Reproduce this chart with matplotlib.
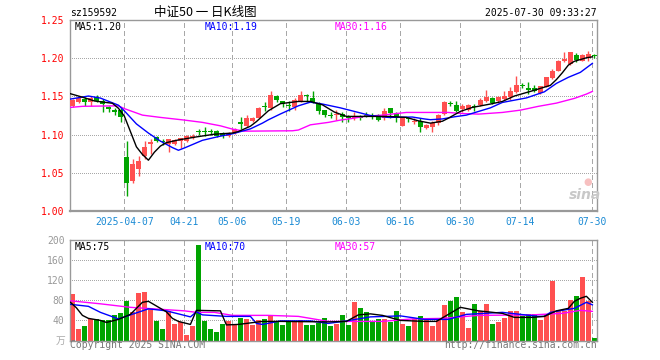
import matplotlib
matplotlib.use("Agg")
import matplotlib.pyplot as plt
import numpy as np

# daily K line of sz159592, 2025-03-24 .. 2025-07-30 (88 trading days)
opens = [1.1377, 1.1429, 1.1465, 1.1429, 1.1487, 1.1443, 1.1356, 1.1321, 1.1325, 1.0709,
         1.0398, 1.0548, 1.0722, 1.0872, 1.0963, 1.0919, 1.0876, 1.0876, 1.0915, 1.0919,
         1.0958, 1.1047, 1.1050, 1.1050, 1.1046, 1.1016, 1.0984, 1.1016, 1.1160, 1.1115,
         1.1181, 1.1216, 1.1377, 1.1343, 1.1508, 1.1438, 1.1386, 1.1364, 1.1435, 1.1517,
         1.1474, 1.1412, 1.1317, 1.1255, 1.1255, 1.1272, 1.1225, 1.1216, 1.1229, 1.1255,
         1.1238, 1.1238, 1.1212, 1.1343, 1.1277, 1.1115, 1.1207, 1.1168, 1.1181, 1.1089,
         1.1094, 1.1147, 1.1268, 1.1412, 1.1386, 1.1334, 1.1325, 1.1377, 1.1386, 1.1443,
         1.1474, 1.1435, 1.1460, 1.1487, 1.1560, 1.1652, 1.1608, 1.1604, 1.1543, 1.1626,
         1.1740, 1.1836, 1.1967, 1.1923, 1.2041, 1.1967, 1.2001, 1.2037]
highs = [1.1470, 1.1500, 1.1487, 1.1500, 1.1517, 1.1465, 1.1377, 1.1343, 1.1343, 1.0919,
         1.0680, 1.0722, 1.0919, 1.0941, 1.0985, 1.0941, 1.0941, 1.0941, 1.0958, 1.0998,
         1.1006, 1.1076, 1.1093, 1.1076, 1.1063, 1.1028, 1.1028, 1.1081, 1.1225, 1.1254,
         1.1233, 1.1360, 1.1429, 1.1574, 1.1517, 1.1438, 1.1438, 1.1473, 1.1574, 1.1530,
         1.1574, 1.1421, 1.1325, 1.1290, 1.1325, 1.1290, 1.1255, 1.1290, 1.1255, 1.1298,
         1.1281, 1.1268, 1.1351, 1.1343, 1.1290, 1.1233, 1.1233, 1.1212, 1.1212, 1.1138,
         1.1181, 1.1268, 1.1438, 1.1443, 1.1443, 1.1399, 1.1395, 1.1395, 1.1474, 1.1580,
         1.1487, 1.1508, 1.1571, 1.1626, 1.1766, 1.1678, 1.1687, 1.1643, 1.1639, 1.1757,
         1.1857, 1.1976, 1.2076, 1.2076, 1.2063, 1.2050, 1.2090, 1.2050]
lows = [1.1360, 1.1408, 1.1377, 1.1377, 1.1421, 1.1300, 1.1300, 1.1255, 1.1168, 1.0199,
        1.0370, 1.0461, 1.0679, 1.0745, 1.0897, 1.0863, 1.0775, 1.0863, 1.0828, 1.0897,
        1.0937, 1.0998, 1.0985, 1.0998, 1.0963, 1.0950, 1.0963, 1.1007, 1.1072, 1.1094,
        1.1168, 1.1211, 1.1311, 1.1325, 1.1421, 1.1360, 1.1304, 1.1325, 1.1421, 1.1421,
        1.1408, 1.1268, 1.1225, 1.1212, 1.1194, 1.1160, 1.1168, 1.1194, 1.1194, 1.1225,
        1.1203, 1.1181, 1.1194, 1.1212, 1.1168, 1.1107, 1.1168, 1.1138, 1.1038, 1.1068,
        1.1038, 1.1125, 1.1255, 1.1369, 1.1290, 1.1290, 1.1308, 1.1311, 1.1377, 1.1421,
        1.1399, 1.1408, 1.1447, 1.1447, 1.1543, 1.1613, 1.1534, 1.1556, 1.1526, 1.1617,
        1.1726, 1.1827, 1.1945, 1.1915, 1.1945, 1.1958, 1.1958, 1.1997]
closes = [1.1456, 1.1474, 1.1421, 1.1474, 1.1443, 1.1399, 1.1334, 1.1291, 1.1225, 1.0361,
          1.0614, 1.0657, 1.0832, 1.0898, 1.0919, 1.0906, 1.0941, 1.0928, 1.0958, 1.0976,
          1.0976, 1.1034, 1.1037, 1.1028, 1.0984, 1.0984, 1.1007, 1.1072, 1.1137, 1.1216,
          1.1216, 1.1351, 1.1360, 1.1517, 1.1452, 1.1395, 1.1377, 1.1452, 1.1521, 1.1500,
          1.1429, 1.1311, 1.1255, 1.1246, 1.1272, 1.1225, 1.1212, 1.1233, 1.1216, 1.1238,
          1.1225, 1.1194, 1.1311, 1.1281, 1.1225, 1.1225, 1.1199, 1.1181, 1.1094, 1.1124,
          1.1150, 1.1259, 1.1429, 1.1395, 1.1311, 1.1377, 1.1386, 1.1364, 1.1448, 1.1498,
          1.1412, 1.1495, 1.1508, 1.1573, 1.1652, 1.1639, 1.1586, 1.1574, 1.1635, 1.1749,
          1.1836, 1.1967, 1.1988, 1.2076, 1.1975, 1.2041, 1.2054, 1.2028]
volumes = [93, 23, 29, 43, 43, 40, 40, 51, 55, 79, 56, 95, 97, 64, 38, 23, 59, 33, 36, 11,
           28, 191, 39, 23, 16, 33, 38, 30, 44, 43, 30, 41, 43, 51, 38, 31, 38, 38, 40, 31,
           31, 34, 44, 29, 33, 50, 30, 77, 65, 57, 37, 43, 43, 37, 59, 33, 29, 43, 49, 41,
           29, 41, 71, 79, 87, 57, 25, 73, 59, 73, 33, 37, 45, 59, 59, 49, 53, 53, 41, 53,
           119, 61, 59, 81, 89, 127, 79, 5]

tick_idx = [9, 19, 27, 36, 46, 55, 65, 75, 87]
tick_labels = ['2025-04-07', '04-21', '05-06', '05-19', '06-03', '06-16', '06-30', '07-14', '07-30']

# moving averages as shown on the chart (read at these candle indices)
ma5_idx = [0, 2, 4, 7, 8, 9, 10, 11, 12, 13, 14, 15, 16, 18, 21, 24, 27, 28, 30, 31, 33, 35, 38, 40,
           42, 44, 46, 49, 53, 56, 58, 60, 62, 63, 65, 67, 70, 72, 74, 77, 80, 81, 82, 83, 84, 86, 87]
ma5 = [1.1535, 1.1490, 1.1440, 1.1410, 1.1345, 1.1240, 1.1040, 1.0840, 1.0740, 1.0665, 1.0770,
       1.0850, 1.0895, 1.0930, 1.0970, 1.1005, 1.1020, 1.1040, 1.1110, 1.1170, 1.1312, 1.1405,
       1.1434, 1.1434, 1.1390, 1.1295, 1.1238, 1.1238, 1.1238, 1.1225, 1.1180, 1.1150, 1.1175,
       1.1215, 1.1304, 1.1356, 1.1400, 1.1434, 1.1505, 1.1573, 1.1645, 1.1720, 1.1810, 1.1910,
       1.1960, 1.2005, 1.2018]
ma10_idx = [0, 3, 5, 8, 9, 11, 13, 15, 17, 18, 19, 22, 25, 27, 30, 32, 33, 35, 38, 40, 42, 45,
            48, 50, 53, 57, 59, 60, 62, 64, 66, 70, 72, 76, 79, 81, 83, 85, 87]
ma10 = [1.1465, 1.1505, 1.1478, 1.1385, 1.1310, 1.1140, 1.1020, 1.0915, 1.0830, 1.0795, 1.0825,
        1.0925, 1.0980, 1.1010, 1.1075, 1.1150, 1.1194, 1.1270, 1.1377, 1.1425, 1.1400, 1.1350,
        1.1290, 1.1250, 1.1225, 1.1230, 1.1205, 1.1195, 1.1205, 1.1233, 1.1255, 1.1350, 1.1421,
        1.1480, 1.1560, 1.1670, 1.1750, 1.1815, 1.1932]
ma30_idx = [0, 2, 8, 9, 12, 15, 19, 22, 25, 27, 29, 37, 38, 39, 40, 43, 45, 47, 49, 52, 56, 63,
            65, 68, 72, 75, 78, 81, 84, 86, 87]
ma30 = [1.1356, 1.1370, 1.1377, 1.1340, 1.1255, 1.1225, 1.1190, 1.1160, 1.1115, 1.1072, 1.1045,
        1.1050, 1.1060, 1.1094, 1.1128, 1.1160, 1.1190, 1.1212, 1.1238, 1.1255, 1.1290, 1.1290,
        1.1277, 1.1268, 1.1290, 1.1320, 1.1370, 1.1412, 1.1474, 1.1530, 1.1565]

vma5_idx = [0, 1, 2, 3, 5, 6, 8, 10, 12, 13, 14, 16, 17, 18, 20, 21, 25, 26, 28, 32, 35, 43, 46,
            48, 50, 52, 55, 59, 61, 64, 65, 68, 72, 74, 77, 79, 81, 83, 84, 85, 86, 87]
vma5 = [76, 65, 50, 44, 40, 36, 42, 52, 76, 78, 71, 57, 44, 38, 32, 60, 59, 31, 32, 38, 38, 37,
        38, 51, 53, 50, 40, 38, 38, 59, 66, 59, 54, 46, 46, 48, 59, 64, 78, 84, 88, 76]
vma10_idx = [0, 3, 5, 8, 10, 13, 16, 19, 20, 21, 22, 26, 30, 31, 32, 35, 40, 43, 46, 50, 55, 59,
             63, 66, 72, 78, 79, 80, 84, 86, 87]
vma10 = [72, 68, 56, 43, 51, 63, 59, 50, 47, 57, 51, 48, 48, 34, 32, 39, 39, 34, 39, 47, 49, 42,
         42, 52, 56, 48, 48, 56, 64, 76, 71]
vma30_idx = [0, 5, 10, 19, 21, 24, 27, 33, 38, 43, 52, 57, 62, 68, 77, 82, 85, 86, 87]
vma30 = [79, 73, 66, 59, 56, 56, 50, 50, 48, 38, 38, 43, 44, 50, 51, 54, 60, 59, 58]

RED = '#ff5050'
GREEN = '#00a400'
GRID = '#a8a8a8'
MONO = 'DejaVu Sans Mono'

o = np.array(opens)
c = np.array(closes)
x = np.arange(len(c))
colors = np.where(c >= o, RED, GREEN)
shift = -0.35  # sina puts grid lines and MA points at the left edge of a candle


def grid(a, levels):
    # 1px dotted horizontals and dashed verticals, no antialiasing like the original
    for lvl in levels:
        a.axhline(lvl, color=GRID, lw=0.72, ls=(0, (1, 2)), antialiased=False, zorder=1)
    for t in tick_idx:
        a.axvline(t + shift, color=GRID, lw=0.72, ls=(0, (5, 3)), antialiased=False, zorder=1)


fig = plt.figure(figsize=(6.6, 3.6), dpi=100)
ax = fig.add_axes([70 / 660, 149 / 360, 527 / 660, 191 / 360])
axv = fig.add_axes([70 / 660, 19.5 / 360, 527 / 660, 100.5 / 360])

# --- price panel ---
grid(ax, [1.05, 1.10, 1.15, 1.20])
ax.vlines(x, lows, highs, colors=colors, lw=1, zorder=2)
ax.bar(x, np.maximum(np.abs(c - o), 0.0012), bottom=np.minimum(o, c), width=0.83,
       color=colors, linewidth=0, zorder=3)
ax.plot(np.array(ma30_idx) + shift, ma30, color='#ff00ff', lw=1, zorder=4)
ax.plot(np.array(ma10_idx) + shift, ma10, color='#0000ff', lw=1, zorder=4)
ax.plot(np.array(ma5_idx) + shift, ma5, color='black', lw=1, zorder=4)
ax.set_xlim(-0.42, 87.42)
ax.set_ylim(1.00, 1.25)
ax.set_yticks([1.00, 1.05, 1.10, 1.15, 1.20, 1.25])
ax.set_yticklabels(['%.2f' % v for v in [1.00, 1.05, 1.10, 1.15, 1.20, 1.25]],
                   color='red', family=MONO, fontsize=7)
ax.set_xticks(np.array(tick_idx) + shift)
ax.set_xticklabels(tick_labels, color='#1a8ad4', family=MONO, fontsize=7)
ax.tick_params(length=0, pad=4)
for s in ax.spines.values():
    s.set_color('#999999')
    s.set_linewidth(1)
ax.spines['bottom'].set_linewidth(1.6)

ax.text(5 / 527, 1 - 6.5 / 191, 'MA5:1.20', transform=ax.transAxes, color='black',
        family=MONO, fontsize=7, va='center')
ax.text(135 / 527, 1 - 6.5 / 191, 'MA10:1.19', transform=ax.transAxes, color='#0000ff',
        family=MONO, fontsize=7, va='center')
ax.text(265 / 527, 1 - 6.5 / 191, 'MA30:1.16', transform=ax.transAxes, color='#ff00ff',
        family=MONO, fontsize=7, va='center')
ax.text(0.978, 0.085, 'sina', transform=ax.transAxes, color='#c8c8c8', fontsize=10,
        style='italic', weight='bold', ha='center', va='center')
ax.text(0.982, 0.15, '●', transform=ax.transAxes, color='#f7c0c0', fontsize=7,
        ha='center', va='center')

# --- volume panel ---
grid(axv, [40, 80, 120, 160])
axv.bar(x, volumes, width=0.83, color=colors, linewidth=0, zorder=2)
axv.plot(np.array(vma30_idx) + shift, vma30, color='#ff00ff', lw=1, zorder=3)
axv.plot(np.array(vma10_idx) + shift, vma10, color='#0000ff', lw=1, zorder=3)
axv.plot(np.array(vma5_idx) + shift, vma5, color='black', lw=1, zorder=3)
axv.set_xlim(-0.42, 87.42)
axv.set_ylim(0, 200)
axv.set_xticks([])
axv.set_yticks([40, 80, 120, 160, 200])
axv.set_yticklabels(['40', '80', '120', '160', '200'], color='#999999', family=MONO, fontsize=7)
axv.tick_params(length=0, pad=4)
for s in axv.spines.values():
    s.set_color('#999999')
    s.set_linewidth(1)
axv.text(-5 / 527, 0.0, '万', transform=axv.transAxes, color='#aaaaaa', fontsize=7,
         family=['Noto Sans CJK SC', 'DejaVu Sans'], ha='right', va='center')

axv.text(5 / 527, 1 - 6.5 / 100.5, 'MA5:75', transform=axv.transAxes, color='black',
         family=MONO, fontsize=7, va='center')
axv.text(135 / 527, 1 - 6.5 / 100.5, 'MA10:70', transform=axv.transAxes, color='#0000ff',
         family=MONO, fontsize=7, va='center')
axv.text(265 / 527, 1 - 6.5 / 100.5, 'MA30:57', transform=axv.transAxes, color='#ff00ff',
         family=MONO, fontsize=7, va='center')

# header and footer
fig.text(70 / 660, 1 - 12.5 / 360, 'sz159592', family=MONO, fontsize=7, va='center')
fig.text(205 / 660, 1 - 12.5 / 360, '中证50 一 日K线图', family=['Noto Sans CJK SC', 'DejaVu Sans'],
         fontsize=9, ha='center', va='center')
fig.text(597 / 660, 1 - 12.5 / 360, '2025-07-30 09:33:27', family=MONO, fontsize=7,
         ha='right', va='center')
fig.text(70 / 660, 1 - 345.5 / 360, 'Copyright 2025 SINA.COM', family=MONO, fontsize=7,
         color='#777777', va='center')
fig.text(597 / 660, 1 - 345.5 / 360, 'http://finance.sina.com.cn', family=MONO, fontsize=7,
         color='#777777', ha='right', va='center')

fig.savefig('out.png', dpi=100, facecolor='white')
